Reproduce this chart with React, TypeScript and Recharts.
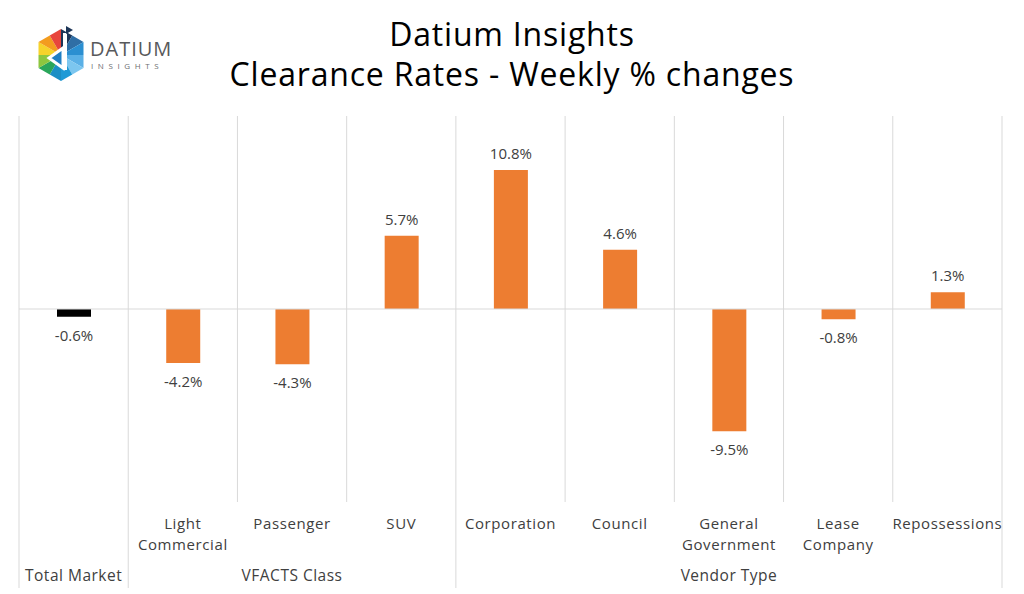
import React from "react";
import {
  BarChart,
  Bar,
  XAxis,
  YAxis,
  CartesianGrid,
  ReferenceLine,
  LabelList,
  Cell,
} from "recharts";

// ---- Data ----
const categoryLines: string[][] = [
  [],
  ["Light", "Commercial"],
  ["Passenger"],
  ["SUV"],
  ["Corporation"],
  ["Council"],
  ["General", "Government"],
  ["Lease", "Company"],
  ["Repossessions"],
];
const groupNames: string[] = [
  "Total Market",
  "VFACTS Class",
  "VFACTS Class",
  "VFACTS Class",
  "Vendor Type",
  "Vendor Type",
  "Vendor Type",
  "Vendor Type",
  "Vendor Type",
];
const weeklyChange: number[] = [-0.6, -4.2, -4.3, 5.7, 10.8, 4.6, -9.5, -0.8, 1.3];
const barColors: string[] = [
  "#000000",
  "#ED7D31",
  "#ED7D31",
  "#ED7D31",
  "#ED7D31",
  "#ED7D31",
  "#ED7D31",
  "#ED7D31",
  "#ED7D31",
];

const data = weeklyChange.map((v, i) => ({
  key: `${groupNames[i]}|${categoryLines[i].join(" ")}|${i}`,
  value: v,
}));

const FONT = "'Open Sans', sans-serif";
const TEXT = "#404040";
const GRID = "#d9d9d9";

const W = 1024;
const H = 594;
const M = { top: 116, left: 19, right: 22, bottom: 0 };
const AX1_H = 56;
const AX2_H = 36;
const N = data.length;
const fallbackHalf = (W - M.left - M.right) / N / 2;

const groupStart = (i: number) => i === 0 || groupNames[i] !== groupNames[i - 1];

const CategoryTick = (props: any) => {
  const { x, y, payload, index } = props;
  const half = payload && payload.offset ? payload.offset : fallbackHalf;
  const lines = categoryLines[index] || [];
  return (
    <g>
      {groupStart(index) && (
        <line x1={x - half} x2={x - half} y1={y} y2={y + 86} stroke={GRID} />
      )}
      {index === N - 1 && (
        <line x1={x + half} x2={x + half} y1={y} y2={y + 86} stroke={GRID} />
      )}
      {lines.map((l, k) => (
        <text
          key={k}
          x={x}
          y={y + 27 + k * 20.5}
          textAnchor="middle"
          fontFamily={FONT}
          fontSize={15}
          letterSpacing={0.6}
          fill={TEXT}
        >
          {l}
        </text>
      ))}
    </g>
  );
};

const GroupTick = (props: any) => {
  const { x, y, index } = props;
  const half = props.payload && props.payload.offset ? props.payload.offset : fallbackHalf;
  if (!groupStart(index)) return <g />;
  let last = index;
  while (last + 1 < N && groupNames[last + 1] === groupNames[index]) last++;
  const cx = x + ((last - index) * 2 * half) / 2;
  return (
    <text
      x={cx}
      y={y + 23}
      textAnchor="middle"
      fontFamily={FONT}
      fontSize={15.5}
      letterSpacing={0.5}
      fill={TEXT}
    >
      {groupNames[index]}
    </text>
  );
};

const ValueLabel = (props: any) => {
  const { x, y, width, height, value } = props;
  const top = Math.min(y, y + height);
  const bottom = Math.max(y, y + height);
  const cx = x + width / 2;
  const ty = value >= 0 ? top - 11 : bottom + 24;
  return (
    <text
      x={cx}
      y={ty}
      textAnchor="middle"
      fontFamily={FONT}
      fontSize={15}
      fill={TEXT}
    >
      {`${value.toFixed(1)}%`}
    </text>
  );
};

const Logo = () => {
  const cx = 61;
  const cy = 55;
  const R = 26;
  const pts = Array.from({ length: 6 }, (_, k) => {
    const a = (-90 + k * 60) * (Math.PI / 180);
    return [cx + R * Math.cos(a), cy + R * Math.sin(a)];
  });
  // clockwise from top vertex, two halves per edge
  const cols = [
    "#1d3557", "#2f6ea5",
    "#2b8fd1", "#5ab0e6",
    "#7cc6ef", "#1e9ad6",
    "#1b8fc5", "#2aa65a",
    "#8dc63f", "#f6d32b",
    "#f39c1f", "#e8453c",
  ];
  const tris: React.ReactElement[] = [];
  for (let k = 0; k < 6; k++) {
    const p = pts[k];
    const q = pts[(k + 1) % 6];
    const m = [(p[0] + q[0]) / 2, (p[1] + q[1]) / 2];
    tris.push(
      <polygon key={`a${k}`} points={`${cx},${cy} ${p[0]},${p[1]} ${m[0]},${m[1]}`} fill={cols[k * 2]} />
    );
    tris.push(
      <polygon key={`b${k}`} points={`${cx},${cy} ${m[0]},${m[1]} ${q[0]},${q[1]}`} fill={cols[k * 2 + 1]} />
    );
  }
  return (
    <g>
      {tris}
      <polygon
        points={`${cx - 12},${cy + 3} ${cx + 2},${cy - 7} ${cx + 2},${cy + 13}`}
        fill="#1f7fc4"
        stroke="#ffffff"
        strokeWidth={3}
        strokeLinejoin="miter"
      />
      <rect x={cx + 2} y={cy - 22} width={4} height={37} fill="#ffffff" />
      <polygon points={`${cx + 5},${cy - 29} ${cx + 12},${cy - 25} ${cx + 5},${cy - 21}`} fill="#1d3557" />
      <text x={90} y={56} fontFamily={FONT} fontSize={20} fill="#58595b" letterSpacing={1}>
        DATIUM
      </text>
      <text x={91} y={69} fontFamily={FONT} fontSize={8} fill="#6d6e71" letterSpacing={4.6}>
        INSIGHTS
      </text>
    </g>
  );
};

export default function App() {
  return (
    <div style={{ position: "absolute", left: 0, top: 0, width: W, height: H, background: "#fff" }}>
      <BarChart width={W} height={H} data={data} margin={M} barSize={34}>
        <CartesianGrid
          horizontal={false}
          vertical
          stroke={GRID}
          verticalCoordinatesGenerator={(p: any) => {
            const off = p.offset;
            return Array.from({ length: N + 1 }, (_, i) => off.left + (i * off.width) / N);
          }}
        />
        <XAxis
          dataKey="key"
          height={AX1_H}
          axisLine={false}
          tickLine={false}
          tickSize={0}
          tickMargin={0}
          interval={0}
          tick={<CategoryTick />}
        />
        <XAxis
          dataKey="key"
          xAxisId="group"
          height={AX2_H}
          axisLine={false}
          tickLine={false}
          tickSize={0}
          tickMargin={0}
          interval={0}
          tick={<GroupTick />}
        />
        <YAxis hide domain={[-15, 15]} />
        <ReferenceLine y={0} stroke={GRID} />
        <Bar dataKey="value" isAnimationActive={false}>
          {data.map((d, i) => (
            <Cell key={d.key} fill={barColors[i]} />
          ))}
          <LabelList dataKey="value" content={<ValueLabel />} />
        </Bar>
      </BarChart>
      <svg
        width={W}
        height={H}
        style={{ position: "absolute", left: 0, top: 0, pointerEvents: "none" }}
      >
        <Logo />
        <text x={512} y={46} textAnchor="middle" fontFamily={FONT} fontSize={32} letterSpacing={0.8} fill="#000">
          Datium Insights
        </text>
        <text x={512} y={86} textAnchor="middle" fontFamily={FONT} fontSize={32} letterSpacing={0.8} fill="#000">
          Clearance Rates - Weekly % changes
        </text>
      </svg>
    </div>
  );
}
